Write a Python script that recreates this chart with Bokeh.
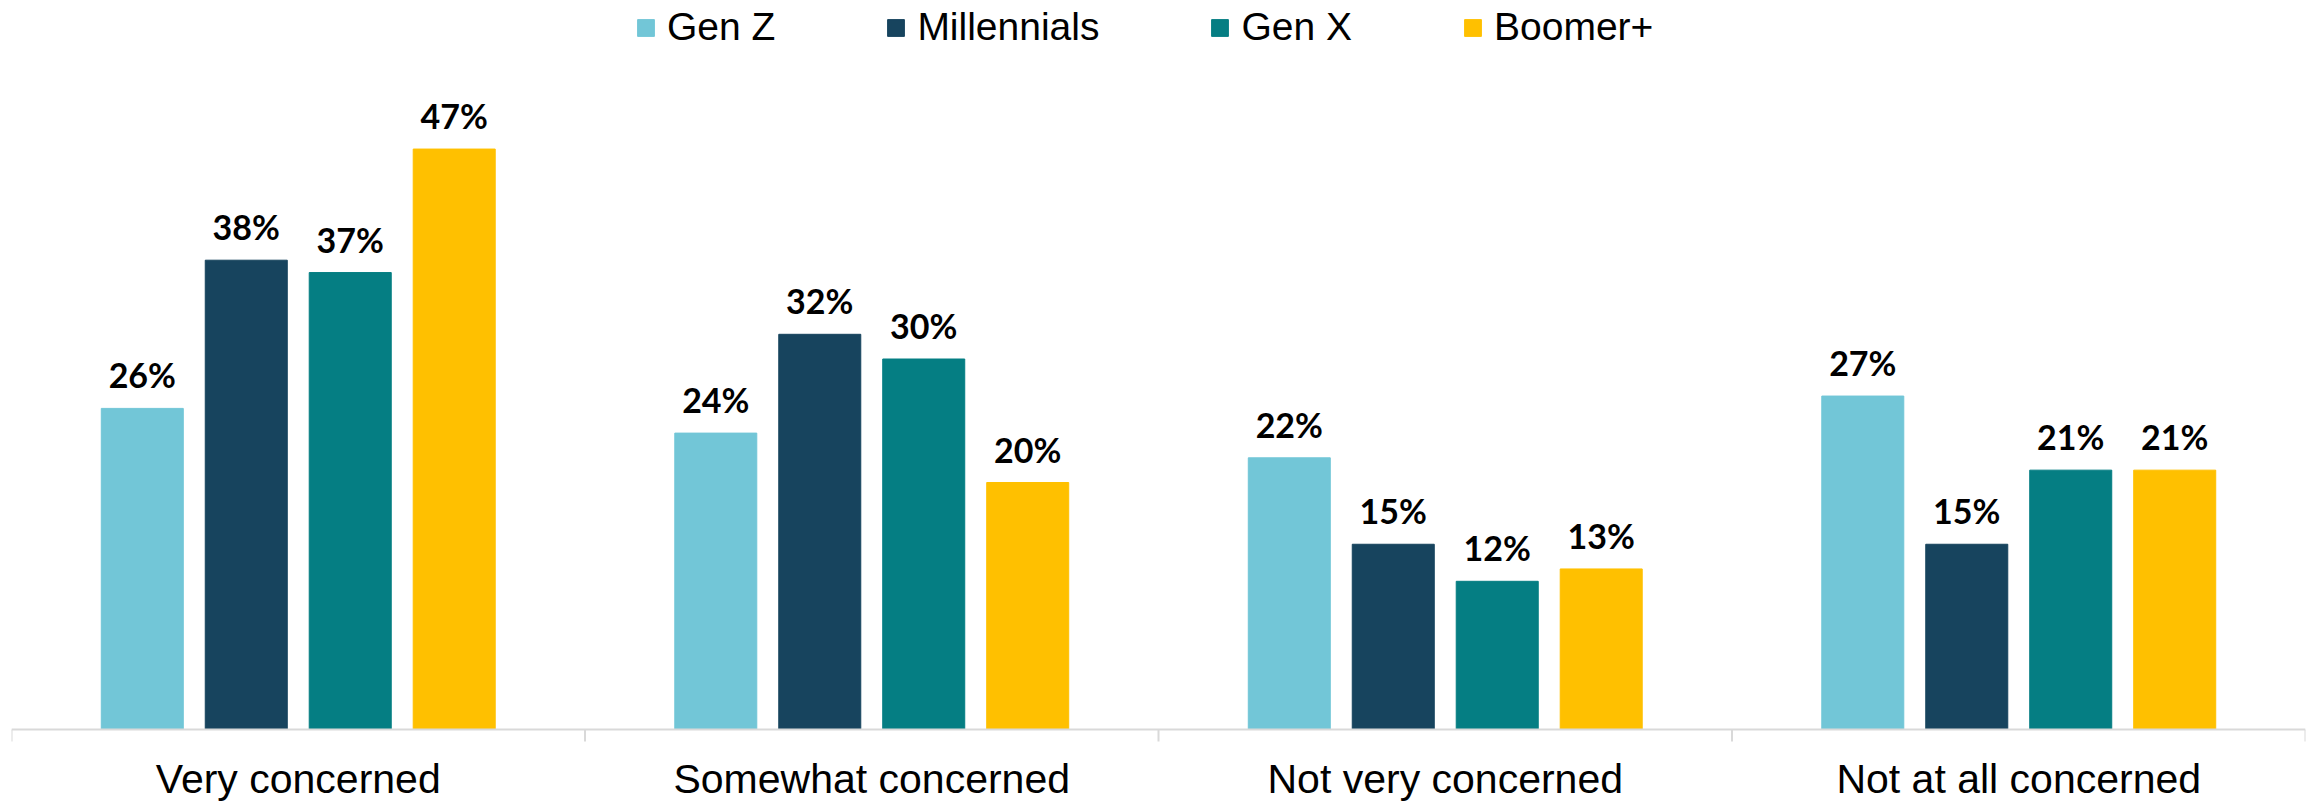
from bokeh.plotting import figure
from bokeh.models import ColumnDataSource, Range1d, LabelSet, Span
from bokeh.core.properties import value
from bokeh.embed import file_html
from bokeh.resources import INLINE

categories = ["Very concerned", "Somewhat concerned", "Not very concerned", "Not at all concerned"]
series = ["Gen Z", "Millennials", "Gen X", "Boomer+"]
gen_z = [26, 24, 22, 27]
millennials = [38, 32, 15, 15]
gen_x = [37, 30, 12, 21]
boomer = [47, 20, 13, 21]
colors = ["#72C6D7", "#17445E", "#057E83", "#FFC000"]

values_by_series = [gen_z, millennials, gen_x, boomer]

n = len(categories)
step = 0.1813
bar_w = 0.143
px_per_unit = 12.35
fig_h = 801
axis_y = 729  # pixel row of zero line inside the figure

p = figure(width=2313, height=fig_h, x_range=Range1d(0, n),
           y_range=Range1d(-(fig_h - axis_y) / px_per_unit, axis_y / px_per_unit),
           output_backend="svg", toolbar_location=None,
           x_axis_location=None, y_axis_location=None,
           min_border_left=11, min_border_right=8, min_border_top=0, min_border_bottom=0)
p.outline_line_color = None
p.grid.grid_line_color = None
p.background_fill_color = "white"
p.border_fill_color = "white"

for k, (name, vals, col) in enumerate(zip(series, values_by_series, colors)):
    xs = [i + 0.5 + (k - 1.5) * step for i in range(n)]
    src = ColumnDataSource(dict(x=xs, top=vals, label=[f"{v}%" for v in vals]))
    p.vbar(x="x", top="top", bottom=0, width=bar_w, source=src,
           fill_color=col, line_color=col, legend_label=name)
    p.add_layout(LabelSet(x="x", y="top", text="label", source=src, y_offset=20,
                          text_align="center", text_baseline="alphabetic",
                          text_font=value("Lato"), text_font_style="bold",
                          text_font_size="34px", text_color="#000000"))

# category axis: zero line, separators between groups, category labels
p.add_layout(Span(location=0, dimension="width", line_color="#D9D9D9", line_width=2))
bounds = list(range(n + 1))
tick_len = 12 / px_per_unit
p.segment(x0=bounds, y0=[0] * (n + 1), x1=bounds, y1=[-tick_len] * (n + 1),
          line_color="#D9D9D9", line_width=2)

centers = [i + 0.5 for i in range(n)]
cat_src = ColumnDataSource(dict(x=centers, y=[0] * n, text=categories))
p.add_layout(LabelSet(x="x", y="y", text="text", source=cat_src, y_offset=-63,
                      text_align="center", text_baseline="alphabetic",
                      text_font=value("Liberation Sans"), text_font_size="41px",
                      text_color="#000000"))

lg = p.legend[0]
lg.orientation = "horizontal"
lg.location = (624, 752)
lg.padding = 0
lg.margin = 0
lg.spacing = 110
lg.label_standoff = 11
lg.glyph_width = 21
lg.glyph_height = 21
lg.border_line_color = None
lg.background_fill_alpha = 0
lg.label_text_font = "Liberation Sans"
lg.label_text_font_size = "39px"
lg.label_text_color = "#000000"

open("out.html", "w").write(file_html(p, INLINE))
